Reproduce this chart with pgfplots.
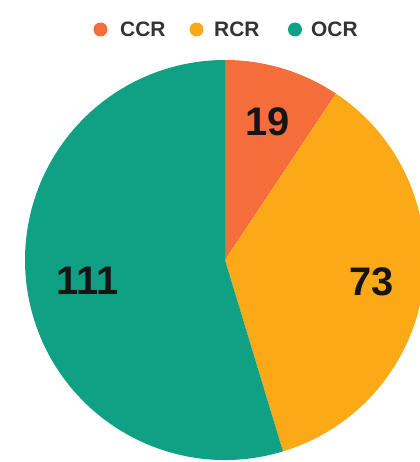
\documentclass[border=0pt]{standalone}
\usepackage{pgfplots}
\usepackage{pgfplotstable}
\pgfplotsset{compat=1.18}
\usepackage{fontspec}
\setmainfont{Liberation Sans}
\definecolor{ccr}{HTML}{F46D3B}
\definecolor{rcr}{HTML}{FBA917}
\definecolor{ocr}{HTML}{10A083}
\definecolor{legtext}{HTML}{333333}
\definecolor{numtext}{HTML}{151515}

\pgfplotstableread{
label value color
CCR 19 ccr
RCR 73 rcr
OCR 111 ocr
}\piedata

\begin{document}
\begin{tikzpicture}
\begin{axis}[
  at={(0,0)}, anchor=south west,
  x=1bp, y=1bp, xmin=0, xmax=420, ymin=0, ymax=462,
  scale only axis, hide axis, clip=false,
]
\pgfplotstablegetelem{0}{value}\of\piedata \pgfmathtruncatemacro{\va}{\pgfplotsretval}
\pgfplotstablegetelem{1}{value}\of\piedata \pgfmathtruncatemacro{\vb}{\pgfplotsretval}
\pgfplotstablegetelem{2}{value}\of\piedata \pgfmathtruncatemacro{\vc}{\pgfplotsretval}
\pgfmathsetmacro{\tot}{\va+\vb+\vc}
\pgfmathsetmacro{\aa}{90}
\pgfmathsetmacro{\ab}{90-(360/\tot)*\va}
\pgfmathsetmacro{\ac}{\ab-(360/\tot)*\vb}
\pgfmathsetmacro{\ad}{90-360}
% sectors (centre at image 225,260 -> axis 225,202, radius 200)
\fill[ccr] (axis cs:225,202) -- ++(\aa:200bp) arc[start angle=\aa, end angle=\ab, radius=200bp] -- cycle;
\fill[rcr] (axis cs:225,202) -- ++(\ab:200bp) arc[start angle=\ab, end angle=\ac, radius=200bp] -- cycle;
\fill[ocr] (axis cs:225,202) -- ++(\ac:200bp) arc[start angle=\ac, end angle=\ad, radius=200bp] -- cycle;
% value labels
\node[font=\fontsize{40}{40}\selectfont\bfseries, text=numtext, inner sep=0pt] at (axis cs:268,340) {\va};
\node[font=\fontsize{40}{40}\selectfont\bfseries, text=numtext, inner sep=0pt] at (axis cs:372,180) {\vb};
\node[font=\fontsize{40}{40}\selectfont\bfseries, text=numtext, inner sep=0pt] at (axis cs:87.5,181.5) {\vc};
% legend
\fill[ccr] (axis cs:100.5,432.5) circle[radius=7bp];
\fill[rcr] (axis cs:196.5,432.5) circle[radius=7bp];
\fill[ocr] (axis cs:295,432.5) circle[radius=7bp];
\node[font=\fontsize{21}{21}\selectfont\bfseries, text=legtext, inner sep=0pt, anchor=base west] at (axis cs:120,425) {CCR};
\node[font=\fontsize{21}{21}\selectfont\bfseries, text=legtext, inner sep=0pt, anchor=base west] at (axis cs:214,425) {RCR};
\node[font=\fontsize{21}{21}\selectfont\bfseries, text=legtext, inner sep=0pt, anchor=base west] at (axis cs:311,425) {OCR};
\end{axis}
\pgfresetboundingbox
\useasboundingbox (0,0) rectangle (420bp,462bp);
\end{tikzpicture}
\end{document}
